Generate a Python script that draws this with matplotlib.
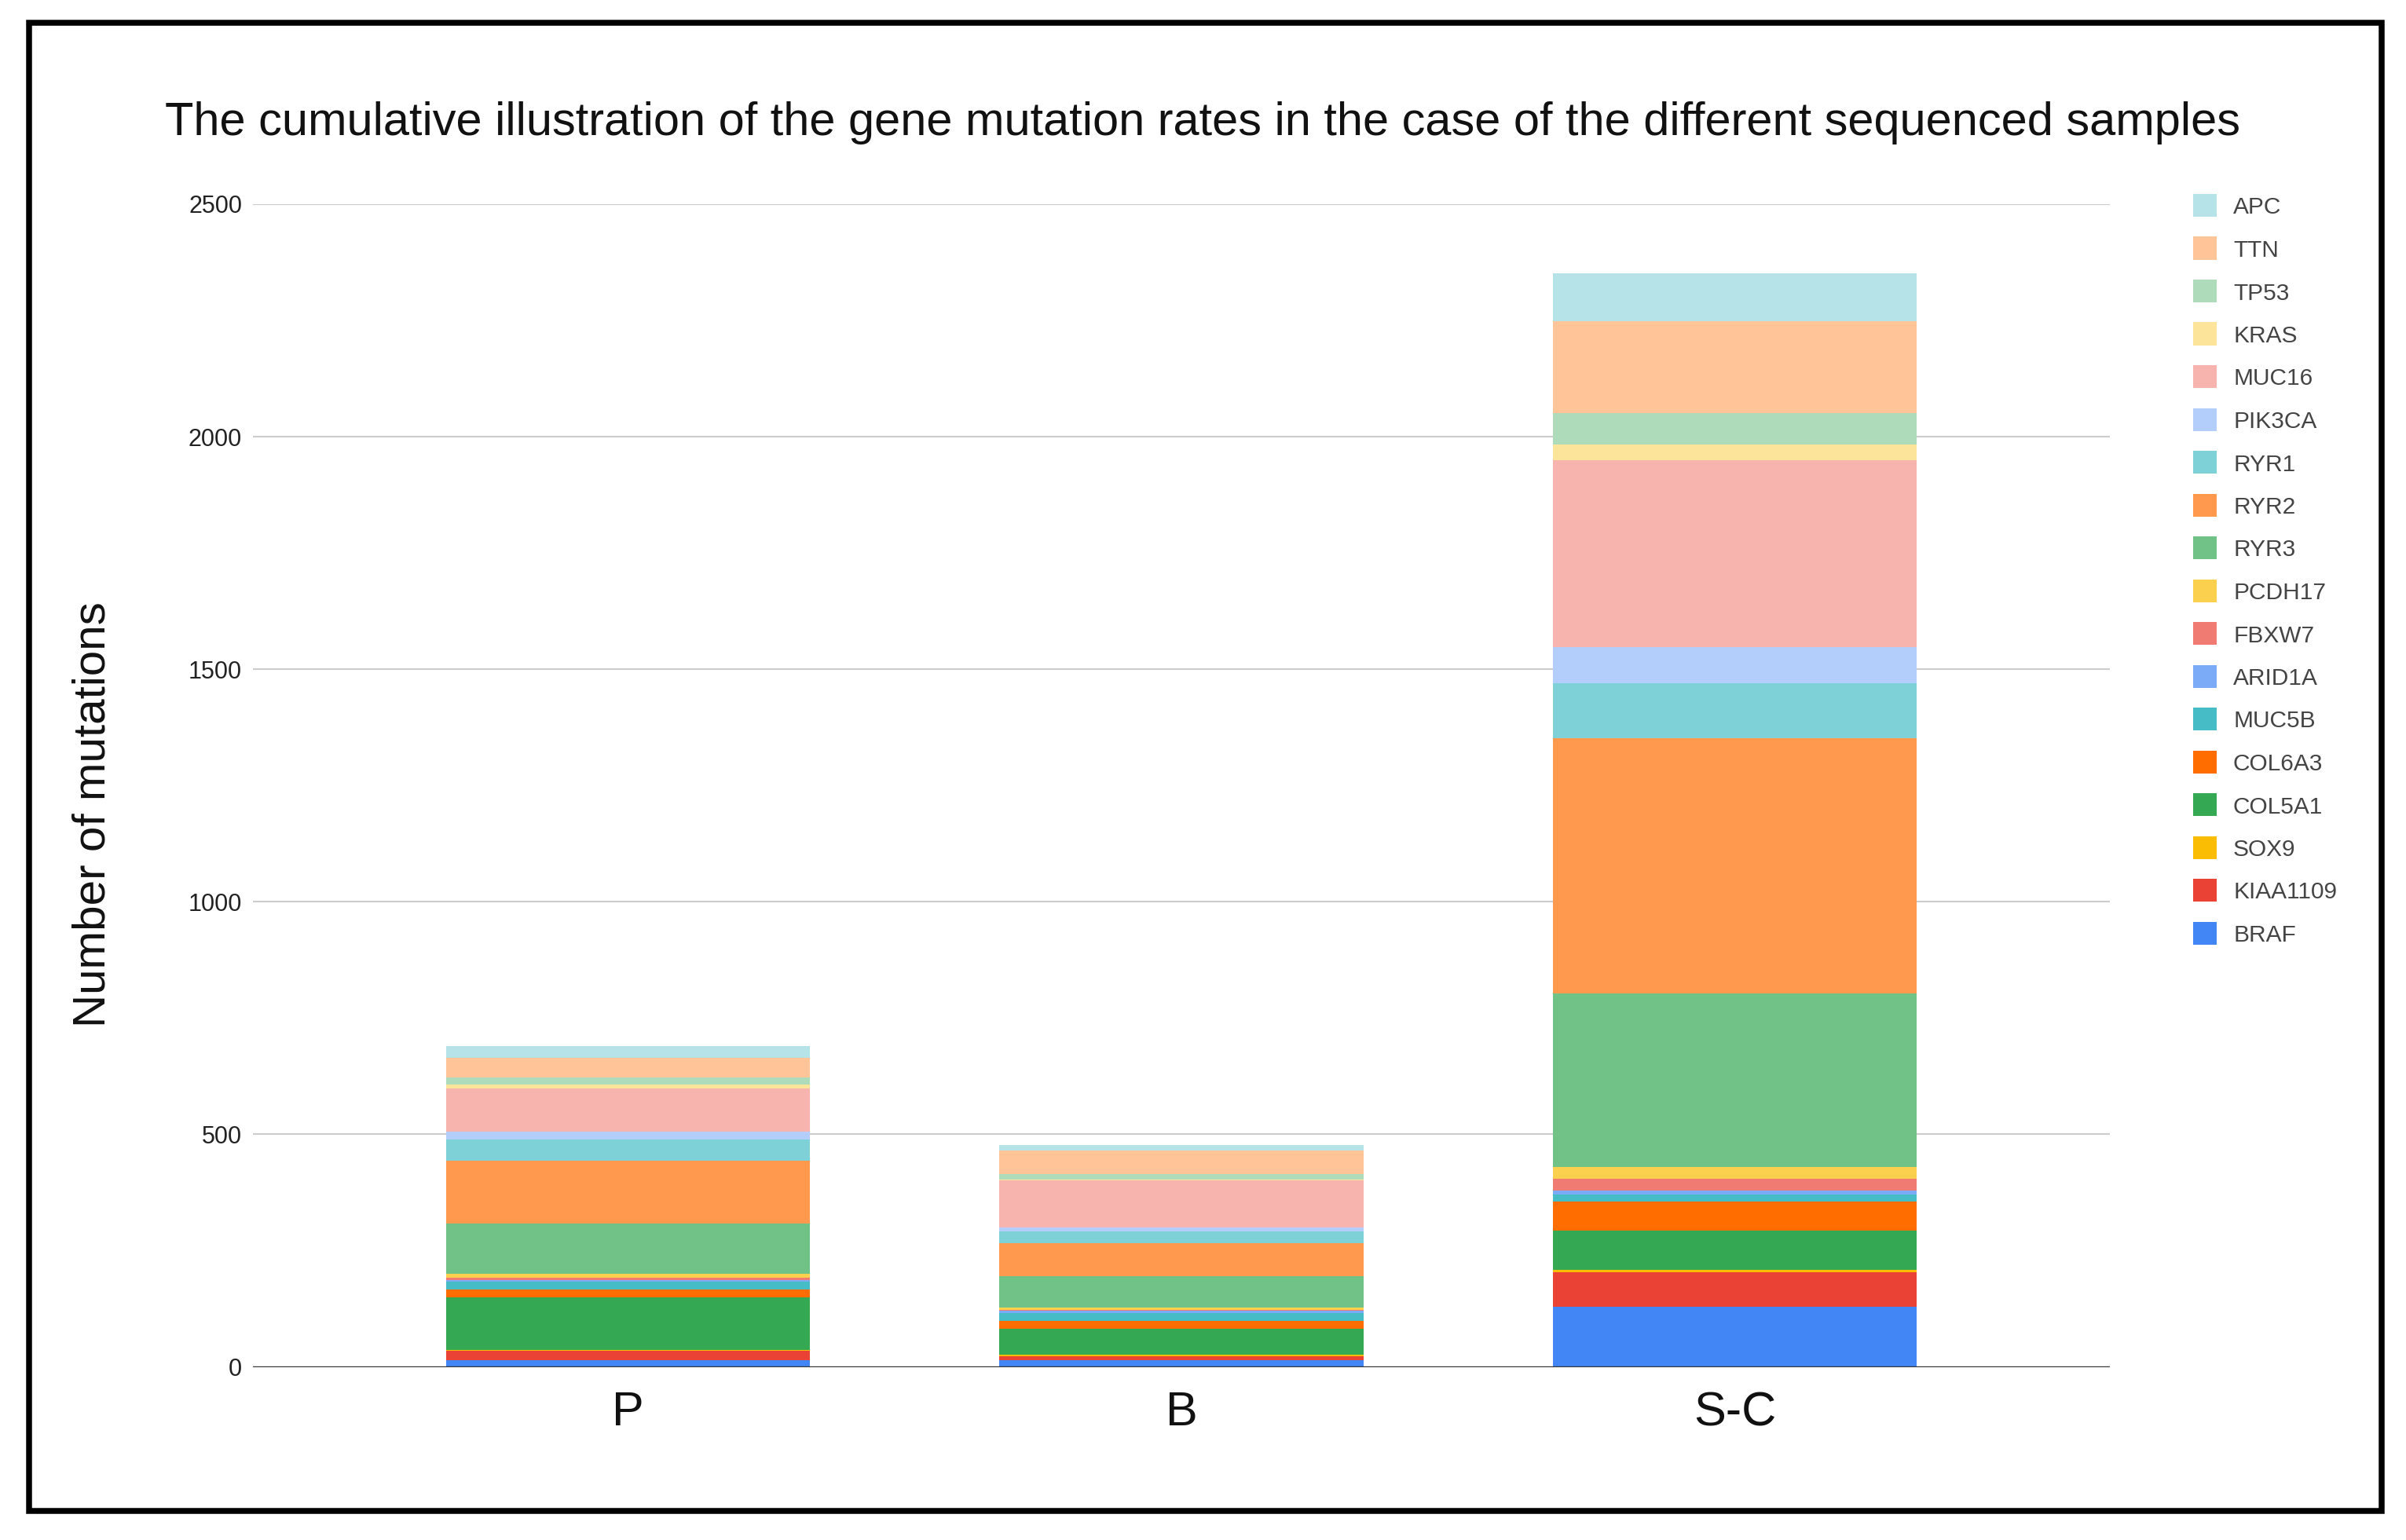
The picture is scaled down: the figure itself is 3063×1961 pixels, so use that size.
import matplotlib
matplotlib.use('Agg')
import numpy as np
import matplotlib.pyplot as plt
from matplotlib.patches import Rectangle

plt.rcParams['font.family'] = ['Liberation Sans', 'DejaVu Sans']

# genes listed from the bottom of each stack to the top
genes = ['BRAF', 'KIAA1109', 'SOX9', 'COL5A1', 'COL6A3', 'MUC5B', 'ARID1A', 'FBXW7',
         'PCDH17', 'RYR3', 'RYR2', 'RYR1', 'PIK3CA', 'MUC16', 'KRAS', 'TP53', 'TTN', 'APC']
colors = ['#4285F4', '#EA4335', '#FBBC04', '#34A853', '#FF6D01', '#46BDC6', '#7BAAF7', '#F07B72',
          '#FCD04F', '#71C287', '#FF994D', '#7ED1D7', '#B3CEFB', '#F7B4AE', '#FDE49B', '#AEDCBA',
          '#FFC599', '#B5E3E8']

samples = ['P', 'B', 'S-C']
counts_P = [14, 21, 2, 113, 16, 17, 4, 5, 8, 109, 134, 46, 16, 93, 9, 16, 41, 26]
counts_B = [15, 8, 4, 55, 16, 18, 4, 3, 4, 68, 71, 25, 8, 102, 1, 13, 50, 12]
counts_SC = [129, 75, 4, 85, 63, 15, 8, 26, 25, 373, 549, 118, 77, 403, 33, 67, 198, 104]

yticks = [0, 500, 1000, 1500, 2000, 2500]

W, H = 3063, 1961
fig = plt.figure(figsize=(W / 100, H / 100), dpi=100)
fig.patch.set_facecolor('white')

ax = fig.add_axes([322 / W, 1 - 1740.5 / H, (2686 - 322) / W, (1740.5 - 260) / H])

data = np.array([counts_P, counts_B, counts_SC])   # shape (samples, genes)
x = np.arange(len(samples))
bottom = np.zeros(len(samples))
for j, g in enumerate(genes):
    ax.bar(x, data[:, j], bottom=bottom, width=0.657, color=colors[j], linewidth=0, label=g, zorder=3)
    bottom = bottom + data[:, j]

ax.set_xlim(-0.677, 2.677)
ax.set_ylim(0, 2500)
ax.set_yticks(yticks)
ax.set_yticklabels([str(t) for t in yticks])
ax.set_xticks(x)
ax.set_xticklabels(samples)
for s in ax.spines.values():
    s.set_visible(False)
ax.tick_params(axis='y', length=0, pad=10, labelsize=22, labelcolor='#222222')
ax.tick_params(axis='x', length=0, pad=22, labelsize=44, labelcolor='#111111')
ax.yaxis.grid(True, color='#cccccc', linewidth=1.5, zorder=0)
ax.set_axisbelow(True)
ax.axhline(0, color='#333333', linewidth=2.4, zorder=4)

# title and axis title
fig.text(0.5, 1 - 172 / H,
         'The cumulative illustration of the gene mutation rates in the case of the different sequenced samples',
         ha='center', va='baseline', fontsize=42.8, color='#111111')
fig.text(119 / W, 1 - 1037 / H, 'Number of mutations', rotation=90,
         ha='center', va='center', fontsize=42, color='#111111')

# legend, top entry is the top of the stack
row0 = 261.5
step = 54.5
for i, j in enumerate(range(len(genes) - 1, -1, -1)):
    yc = row0 + i * step
    fig.add_artist(Rectangle((2792 / W, 1 - (yc + 14.5) / H), 30 / W, 29 / H,
                             transform=fig.transFigure, facecolor=colors[j], edgecolor='none'))
    fig.text(2843 / W, 1 - (yc + 11) / H, genes[j], ha='left', va='baseline',
             fontsize=21.5, color='#444444')

# black frame around the chart
fig.add_artist(Rectangle((36.5 / W, 1 - 1924 / H), (3031.5 - 36.5) / W, (1924 - 29) / H,
                         transform=fig.transFigure, fill=False, edgecolor='black', linewidth=5.4))

fig.savefig('out.png', dpi=100)
